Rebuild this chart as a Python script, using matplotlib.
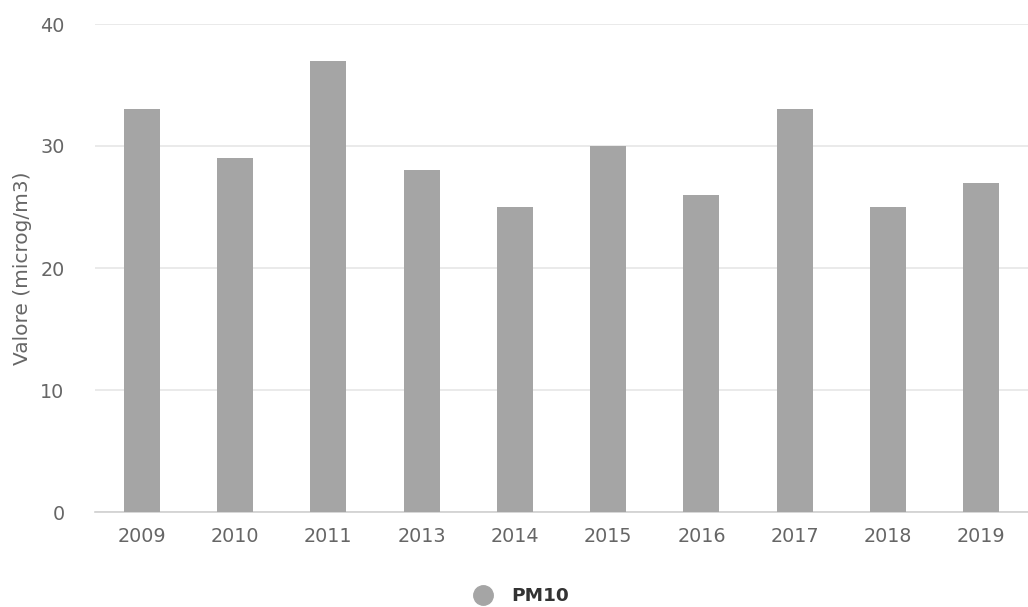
import matplotlib
matplotlib.use("Agg")
import matplotlib.pyplot as plt
from matplotlib.lines import Line2D

years = ["2009", "2010", "2011", "2013", "2014", "2015", "2016", "2017", "2018", "2019"]
pm10 = [33, 29, 37, 28, 25, 30, 26, 33, 25, 27]
y_ticks = [0, 10, 20, 30, 40]

bar_color = "#a5a5a5"
text_color = "#666666"

plt.rcParams["font.family"] = ["DejaVu Sans"]

fig = plt.figure(figsize=(10.28, 6.07), dpi=100)
ax = fig.add_axes([95 / 1028, 1 - 512 / 607, 1 - 95 / 1028, (512 - 24) / 607])

x = range(len(years))
ax.bar(x, pm10, width=0.385, color=bar_color, zorder=3)

ax.set_xlim(-0.5, len(years) - 0.5)
ax.set_ylim(0, 40)
ax.set_yticks(y_ticks)
ax.set_xticks(list(x))
ax.set_xticklabels(years)

ax.grid(axis="y", color="#e6e6e6", linewidth=1.2, zorder=0)
for side in ("top", "right", "left"):
    ax.spines[side].set_visible(False)
ax.spines["bottom"].set_color("#d0d0d0")
ax.spines["bottom"].set_linewidth(1.2)

ax.tick_params(axis="both", length=0, labelsize=13.8, colors=text_color)
ax.tick_params(axis="y", pad=22)
ax.tick_params(axis="x", pad=11)

fig.text(23 / 1028, 1 - 268 / 607, "Valore (microg/m3)", rotation=90,
         ha="center", va="center", fontsize=14.5, color=text_color)

handle = Line2D([], [], marker="o", linestyle="none", markersize=14,
                markerfacecolor=bar_color, markeredgecolor=bar_color)
fig.legend([handle], ["PM10"], loc="center", bbox_to_anchor=(517 / 1028, 1 - 596 / 607),
           frameon=False, handletextpad=0.55,
           prop={"weight": "bold", "size": 13.3}, labelcolor="#333333")

fig.savefig("out.png", dpi=100, facecolor="white")
